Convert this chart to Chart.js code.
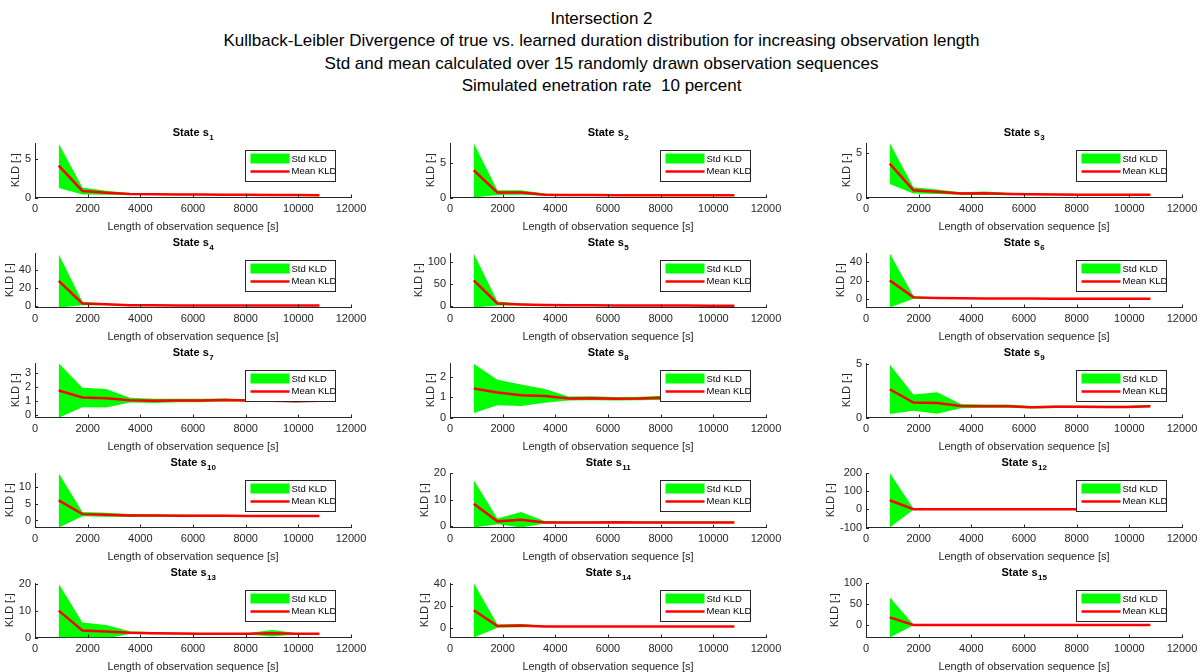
<!DOCTYPE html>
<html>
<head>
<meta charset="utf-8">
<script src="https://cdn.jsdelivr.net/npm/chart.js@4.4.0/dist/chart.umd.min.js"></script>
<style>
  html, body { margin: 0; padding: 0; background: #fff; }
  body { width: 1203px; height: 672px; position: relative; overflow: hidden; font-family: "Liberation Sans", Arial, sans-serif; }
  #figTitle { position: absolute; left: 0; top: 8px; width: 1203px; text-align: center; font-size: 17px; line-height: 22.3px; color: #000; white-space: pre; }
  canvas { position: absolute; }
</style>
</head>
<body>
<div id="figTitle">Intersection 2
Kullback-Leibler Divergence of true vs. learned duration distribution for increasing observation length
Std and mean calculated over 15 randomly drawn observation sequences
Simulated enetration rate  10 percent</div>
<script>
// observation lengths [s]
const obsLength = [900, 1800, 2700, 3600, 4500, 5400, 6300, 7200, 8100, 9000, 9900, 10800];
const xTicks = [0, 2000, 4000, 6000, 8000, 10000, 12000];

// mean and std of KLD per state
const s1Mean = [4.15, 0.85, 0.62, 0.45, 0.42, 0.40, 0.38, 0.36, 0.35, 0.33, 0.32, 0.30];
const s1Std  = [2.90, 0.45, 0.25, 0.12, 0.10, 0.10, 0.08, 0.08, 0.08, 0.07, 0.07, 0.07];
const s2Mean = [4.00, 0.72, 0.72, 0.42, 0.38, 0.36, 0.34, 0.34, 0.33, 0.33, 0.32, 0.32];
const s2Std  = [4.00, 0.36, 0.33, 0.15, 0.10, 0.10, 0.08, 0.08, 0.07, 0.07, 0.07, 0.07];
const s3Mean = [3.80, 0.80, 0.65, 0.45, 0.47, 0.40, 0.36, 0.34, 0.32, 0.30, 0.30, 0.30];
const s3Std  = [2.30, 0.35, 0.25, 0.15, 0.20, 0.12, 0.10, 0.08, 0.08, 0.07, 0.07, 0.07];
const s4Mean = [28.0, 3.0, 2.0, 1.0, 0.9, 0.85, 0.8, 0.8, 0.75, 0.75, 0.7, 0.7];
const s4Std  = [29.5, 2.0, 1.0, 0.5, 0.3, 0.3, 0.25, 0.2, 0.2, 0.2, 0.2, 0.2];
const s5Mean = [58.0, 6.0, 4.0, 2.5, 2.0, 1.8, 1.6, 1.5, 1.4, 1.3, 1.2, 1.2];
const s5Std  = [61.0, 4.5, 2.0, 1.0, 0.7, 0.5, 0.4, 0.4, 0.3, 0.3, 0.3, 0.3];
const s6Mean = [20.5, 2.2, 1.5, 1.2, 1.1, 1.0, 0.9, 0.85, 0.8, 0.75, 0.7, 0.7];
const s6Std  = [29.3, 1.6, 0.7, 0.4, 0.3, 0.3, 0.2, 0.2, 0.2, 0.2, 0.2, 0.2];
const s7Mean = [1.73, 1.23, 1.18, 1.04, 0.99, 1.02, 1.02, 1.06, 1.02, 1.00, 0.97, 1.00];
const s7Std  = [1.95, 0.70, 0.66, 0.17, 0.15, 0.13, 0.12, 0.10, 0.09, 0.08, 0.08, 0.07];
const s8Mean = [1.44, 1.24, 1.10, 1.07, 0.94, 0.95, 0.93, 0.94, 0.98, 0.97, 0.96, 0.96];
const s8Std  = [1.22, 0.63, 0.53, 0.34, 0.10, 0.10, 0.09, 0.09, 0.10, 0.08, 0.08, 0.08];
const s9Mean = [2.62, 1.38, 1.35, 1.06, 1.05, 1.05, 0.94, 1.00, 1.00, 0.98, 0.98, 1.05];
const s9Std  = [2.30, 0.75, 1.00, 0.20, 0.15, 0.15, 0.10, 0.12, 0.10, 0.10, 0.10, 0.10];
const s10Mean = [6.0, 1.9, 1.7, 1.5, 1.5, 1.45, 1.4, 1.4, 1.35, 1.35, 1.35, 1.35];
const s10Std  = [8.1, 0.65, 0.6, 0.45, 0.4, 0.35, 0.3, 0.3, 0.25, 0.15, 0.15, 0.15];
const s11Mean = [8.5, 1.9, 2.5, 1.5, 1.5, 1.5, 1.6, 1.5, 1.5, 1.5, 1.5, 1.5];
const s11Std  = [8.9, 1.1, 2.9, 0.4, 0.3, 0.3, 0.4, 0.3, 0.3, 0.3, 0.3, 0.3];
const s12Mean = [50.0, 1.0, 0.8, 0.7, 0.6, 0.6, 0.6, 0.5, 0.5, 0.5, 0.5, 0.5];
const s12Std  = [150.0, 3.0, 1.5, 1.0, 0.8, 0.6, 0.5, 0.5, 0.5, 0.5, 0.5, 0.5];
const s13Mean = [10.0, 2.6, 2.2, 1.8, 1.6, 1.5, 1.4, 1.4, 1.4, 1.6, 1.4, 1.4];
const s13Std  = [10.0, 3.0, 2.5, 0.5, 0.4, 0.3, 0.3, 0.3, 0.3, 1.2, 0.3, 0.3];
const s14Mean = [16.0, 1.5, 2.0, 1.2, 1.1, 1.0, 1.0, 1.0, 1.0, 1.0, 1.0, 1.0];
const s14Std  = [25.0, 1.5, 1.5, 0.5, 0.4, 0.3, 0.3, 0.3, 0.3, 0.3, 0.3, 0.3];
const s15Mean = [19.0, 1.0, 1.0, 1.0, 1.0, 1.0, 1.0, 1.0, 1.0, 1.0, 1.0, 1.0];
const s15Std  = [48.0, 1.0, 0.5, 0.5, 0.5, 0.5, 0.5, 0.5, 0.5, 0.5, 0.5, 0.5];

// y axis limits and tick labels per state
const yLimits = [[0, 7.1], [0, 8], [0, 6.1], [-1.5, 59], [-3, 120], [-8.7, 50], [-0.2, 3.7], [0, 2.7],
                 [0, 5.05], [-2.1, 14.2], [-0.4, 20], [-100, 200], [0, 20.3], [-9, 41], [-29, 101]];
const yTickLabels = [[0, 5], [0, 5], [0, 5], [0, 20, 40], [0, 50, 100], [0, 20, 40], [0, 1, 2, 3], [0, 1, 2],
                     [0, 5], [0, 5, 10], [0, 10, 20], [-100, 0, 100, 200], [0, 10, 20], [0, 20, 40], [0, 50, 100]];

const means = [s1Mean, s2Mean, s3Mean, s4Mean, s5Mean, s6Mean, s7Mean, s8Mean, s9Mean, s10Mean, s11Mean, s12Mean, s13Mean, s14Mean, s15Mean];
const stds = [s1Std, s2Std, s3Std, s4Std, s5Std, s6Std, s7Std, s8Std, s9Std, s10Std, s11Std, s12Std, s13Std, s14Std, s15Std];

const FONT = '"Liberation Sans", Arial, sans-serif';
const AXIS_COLOR = '#262626';

// layout of the 5x3 grid
const colCanvasLeft = [0, 400, 816];
const colCanvasWidth = [395, 410, 387];
const colChartLeft = [35, 450, 866];
const chartWidth = 316;
const firstChartTop = 143;
const rowStep = 110;
const topPad = 21;
const plotHeight = 54.5;
const canvasHeight = 113;

// titles, y label, inward ticks and legend box
const decorPlugin = {
    id: 'decor',
    afterDraw(chart, args, opts) {
        const ctx = chart.ctx;
        const a = chart.chartArea;
        const xs = chart.scales.x;
        const ys = chart.scales.y;
        ctx.save();

        // inward tick marks like matlab
        ctx.strokeStyle = AXIS_COLOR;
        ctx.lineWidth = 1;
        xs.ticks.forEach(t => {
            const px = Math.round(xs.getPixelForValue(t.value)) + 0.5;
            ctx.beginPath();
            ctx.moveTo(px, a.bottom);
            ctx.lineTo(px, a.bottom - 3);
            ctx.stroke();
        });
        ys.ticks.forEach(t => {
            const py = Math.round(ys.getPixelForValue(t.value)) + 0.5;
            ctx.beginPath();
            ctx.moveTo(a.left, py);
            ctx.lineTo(a.left + 3, py);
            ctx.stroke();
        });

        // subplot title with subscript
        const cx = (a.left + a.right) / 2;
        ctx.fillStyle = '#000';
        ctx.textBaseline = 'alphabetic';
        ctx.textAlign = 'left';
        ctx.font = 'bold 11px ' + FONT;
        const main = 'State s';
        const w1 = ctx.measureText(main).width;
        ctx.font = 'bold 8px ' + FONT;
        const w2 = ctx.measureText(opts.sub).width;
        const x0 = cx - (w1 + w2) / 2;
        ctx.font = 'bold 11px ' + FONT;
        ctx.fillText(main, x0, a.top - 7);
        ctx.font = 'bold 8px ' + FONT;
        ctx.fillText(opts.sub, x0 + w1 + 0.5, a.top - 3);

        // y label, placed left of the widest tick label
        ctx.font = '11px ' + FONT;
        let maxW = 0;
        ys.ticks.forEach(t => { maxW = Math.max(maxW, ctx.measureText(String(t.label)).width); });
        const labelX = Math.max(a.left - 4 - maxW - 9, 9);
        ctx.save();
        ctx.translate(labelX, (a.top + a.bottom) / 2);
        ctx.rotate(-Math.PI / 2);
        ctx.textAlign = 'center';
        ctx.textBaseline = 'middle';
        ctx.fillStyle = AXIS_COLOR;
        ctx.fillText('KLD [-]', 0, 0);
        ctx.restore();

        // legend
        const lw = 90, lh = 31;
        const lx = Math.round(a.right - 16 - lw) + 0.5;
        const ly = Math.round(a.top + 7) + 0.5;
        ctx.fillStyle = '#fff';
        ctx.fillRect(lx, ly, lw, lh);
        ctx.strokeStyle = AXIS_COLOR;
        ctx.lineWidth = 1;
        ctx.strokeRect(lx, ly, lw, lh);
        ctx.fillStyle = '#00ff00';
        ctx.fillRect(lx + 5, ly + 3, 39, 10);
        ctx.strokeStyle = '#ff0000';
        ctx.lineWidth = 2.5;
        ctx.beginPath();
        ctx.moveTo(lx + 5, ly + 21);
        ctx.lineTo(lx + 44, ly + 21);
        ctx.stroke();
        ctx.fillStyle = '#000';
        ctx.font = '9.5px ' + FONT;
        ctx.textAlign = 'left';
        ctx.textBaseline = 'middle';
        ctx.fillText('Std KLD', lx + 46, ly + 8.5);
        ctx.fillText('Mean KLD', lx + 46, ly + 21);
        ctx.restore();
    }
};

function makeState(i) {
    const row = Math.floor(i / 3);
    const col = i % 3;
    const canvas = document.createElement('canvas');
    canvas.width = colCanvasWidth[col];
    canvas.height = canvasHeight;
    canvas.style.left = colCanvasLeft[col] + 'px';
    canvas.style.top = (firstChartTop + rowStep * row - topPad) + 'px';
    document.body.appendChild(canvas);

    const mean = means[i];
    const std = stds[i];
    const upper = obsLength.map((x, j) => ({ x: x, y: mean[j] + std[j] }));
    const lower = obsLength.map((x, j) => ({ x: x, y: mean[j] - std[j] }));
    const meanPts = obsLength.map((x, j) => ({ x: x, y: mean[j] }));
    const yTicks = yTickLabels[i];
    const yAxisWidth = colChartLeft[col] - colCanvasLeft[col];
    const rightPad = colCanvasWidth[col] - yAxisWidth - chartWidth;

    new Chart(canvas.getContext('2d'), {
        type: 'line',
        data: {
            datasets: [
                { label: 'Mean KLD', data: meanPts, borderColor: '#ff0000', borderWidth: 2.5, pointRadius: 0, fill: false, order: 0, tension: 0 },
                { label: 'Std KLD', data: upper, borderWidth: 0, borderColor: 'rgba(0,0,0,0)', backgroundColor: '#00ff00', pointRadius: 0, fill: '+1', order: 1, tension: 0 },
                { label: 'lower', data: lower, borderWidth: 0, borderColor: 'rgba(0,0,0,0)', pointRadius: 0, fill: false, order: 2, tension: 0 }
            ]
        },
        options: {
            responsive: false,
            animation: false,
            events: [],
            layout: { padding: { top: topPad, left: 0, right: rightPad, bottom: 0 } },
            plugins: {
                legend: { display: false },
                tooltip: { enabled: false },
                decor: { sub: String(i + 1) }
            },
            scales: {
                x: {
                    type: 'linear',
                    min: 0,
                    max: 12000,
                    afterBuildTicks: s => { s.ticks = xTicks.map(v => ({ value: v })); },
                    afterFit: s => { s.height = canvasHeight - topPad - plotHeight; },
                    grid: { display: false, drawTicks: false },
                    border: { display: true, color: AXIS_COLOR, width: 1 },
                    ticks: { autoSkip: false, maxRotation: 0, padding: 5, color: AXIS_COLOR, font: { family: FONT, size: 11 }, callback: v => String(v) },
                    title: { display: true, text: 'Length of observation sequence [s]', color: AXIS_COLOR, font: { family: FONT, size: 11 }, padding: { top: 0, bottom: 1 } }
                },
                y: {
                    type: 'linear',
                    min: yLimits[i][0],
                    max: yLimits[i][1],
                    afterBuildTicks: s => { s.ticks = yTicks.map(v => ({ value: v })); },
                    afterFit: s => { s.width = yAxisWidth; },
                    grid: { display: false, drawTicks: false },
                    border: { display: true, color: AXIS_COLOR, width: 1 },
                    ticks: { padding: 4, color: AXIS_COLOR, font: { family: FONT, size: 11 }, callback: v => String(v) }
                }
            }
        },
        plugins: [decorPlugin]
    });
}

for (let i = 0; i < 15; i++) {
    makeState(i);
}
</script>
</body>
</html>
